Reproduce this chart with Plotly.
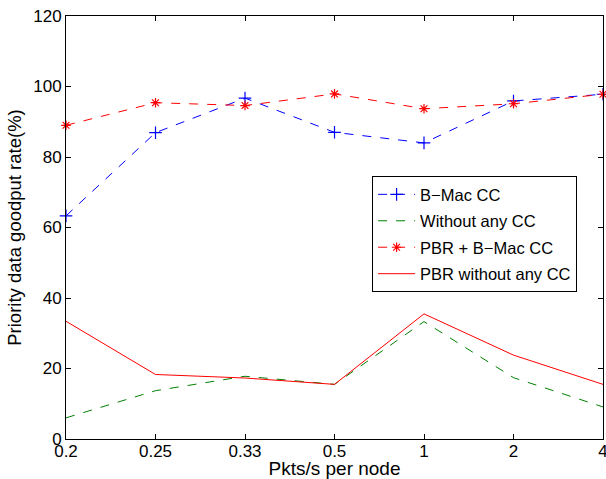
import plotly.graph_objects as go

# Offered load per node (categorical x axis)
rates = ["0.2", "0.25", "0.33", "0.5", "1", "2", "4"]

# Priority data goodput rate (%) for each scheme
bmac_cc = [63.3, 86.9, 96.7, 87.0, 84.0, 95.9, 97.8]
without_cc = [6.0, 13.7, 17.8, 15.5, 33.3, 17.4, 9.1]
pbr_bmac_cc = [89.0, 95.4, 94.6, 97.9, 93.7, 95.1, 97.8]
pbr_without_cc = [33.4, 18.3, 17.3, 15.5, 35.5, 23.8, 15.5]

FONT = "Liberation Sans, Arial, Helvetica, sans-serif"

fig = go.Figure()

fig.add_trace(go.Scatter(
    x=rates, y=bmac_cc, name="B\u2212Mac CC", mode="lines+markers",
    line=dict(color="#0000FF", width=1, dash="dash"),
    marker=dict(symbol="cross-thin", size=9, color="#0000FF",
                line=dict(color="#0000FF", width=1.2)),
    cliponaxis=False, legendgroup="a",
))
fig.add_trace(go.Scatter(
    x=rates, y=without_cc, name="Without any CC", mode="lines",
    line=dict(color="#008000", width=1, dash="dash"),
    cliponaxis=False, legendgroup="b",
))
fig.add_trace(go.Scatter(
    x=rates, y=pbr_bmac_cc, name="PBR + B\u2212Mac CC", mode="lines+markers",
    line=dict(color="#FF0000", width=1, dash="dash"),
    marker=dict(symbol="asterisk-open", size=8, color="#FF0000",
                line=dict(color="#FF0000", width=1.2)),
    cliponaxis=False, legendgroup="c",
))
fig.add_trace(go.Scatter(
    x=rates, y=pbr_without_cc, name="PBR without any CC", mode="lines",
    line=dict(color="#FF0000", width=1),
    cliponaxis=False, legendgroup="d",
))

axis_common = dict(
    showline=True, linecolor="black", linewidth=1, mirror="ticks",
    ticks="inside", ticklen=5, tickcolor="black", tickwidth=1,
    showgrid=False, zeroline=False, automargin=False,
    tickfont=dict(family=FONT, size=17, color="black"),
)

fig.update_xaxes(
    type="category", range=[0, 6], categoryorder="array", categoryarray=rates,
    ticklabelstandoff=-3,
    title=dict(text="Pkts/s per node", font=dict(family=FONT, size=19, color="black"),
               standoff=6),
    **axis_common,
)
fig.update_yaxes(
    range=[0, 120], tickvals=[0, 20, 40, 60, 80, 100, 120],
    title=dict(text="Priority data goodput rate(%)",
               font=dict(family=FONT, size=18.5, color="black"), standoff=6),
    **axis_common,
)

fig.update_layout(
    width=606, height=479,
    margin=dict(l=66, r=3, t=16, b=40),
    paper_bgcolor="white", plot_bgcolor="white",
    font=dict(family=FONT, color="black"),
    legend=dict(
        x=0.570, y=0.6215, xanchor="left", yanchor="top",
        bgcolor="white", bordercolor="black", borderwidth=1,
        font=dict(family=FONT, size=16.5, color="black"),
        traceorder="grouped", tracegroupgap=2, itemwidth=37,
    ),
)

fig.write_html("out.html")
